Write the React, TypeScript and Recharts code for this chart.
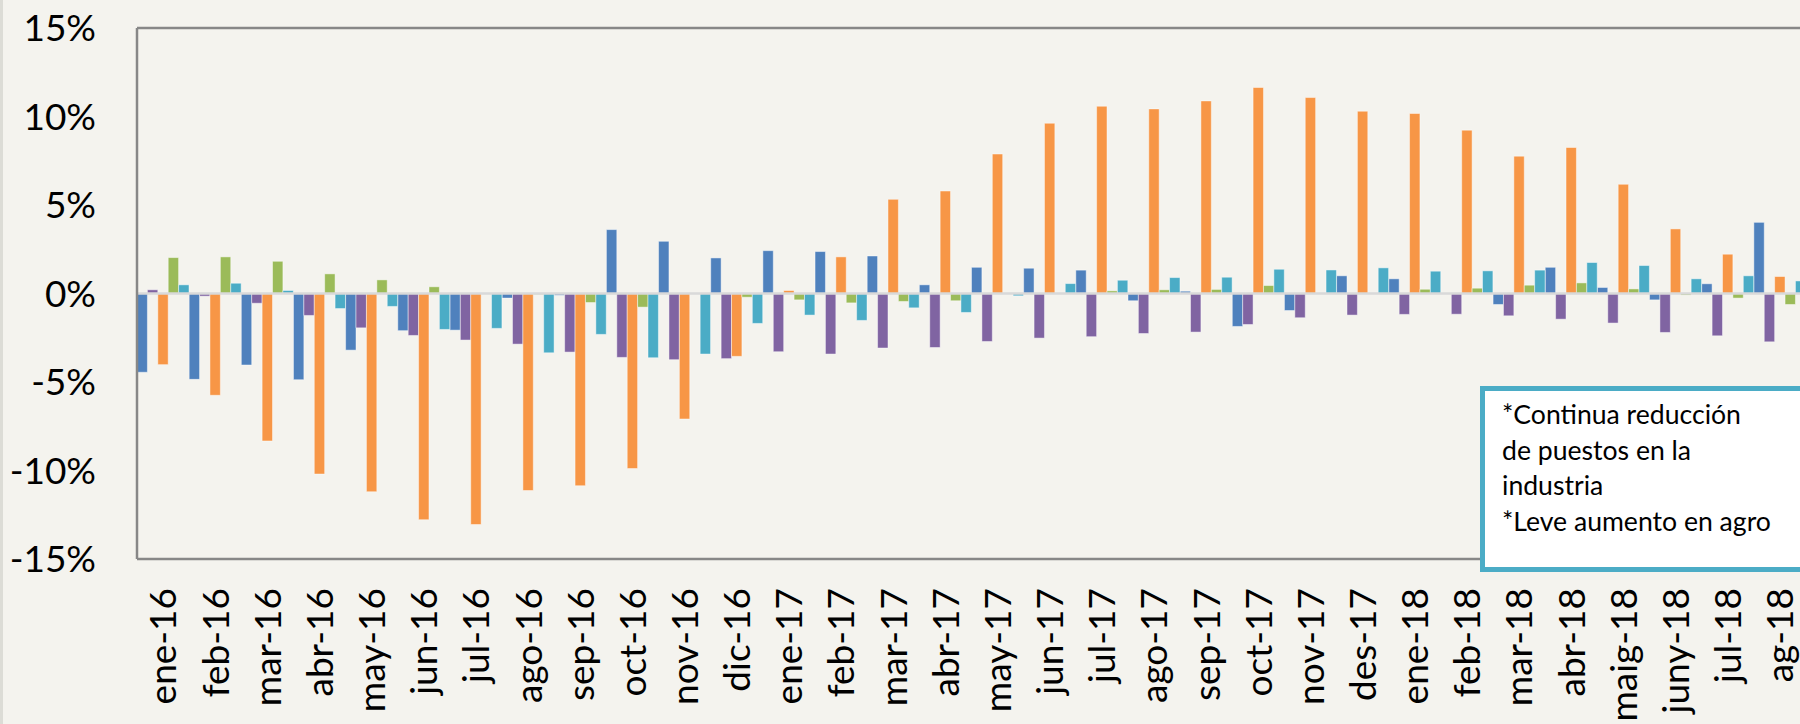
import React from "react"
import { Bar, BarChart, XAxis, YAxis, ReferenceLine } from "recharts"

// months as printed under the chart (mix of Spanish and Catalan abbreviations)
const months = [
  "ene-16", "feb-16", "mar-16", "abr-16", "may-16", "jun-16", "jul-16", "ago-16",
  "sep-16", "oct-16", "nov-16", "dic-16", "ene-17", "feb-17", "mar-17", "abr-17",
  "may-17", "jun-17", "jul-17", "ago-17", "sep-17", "oct-17", "nov-17", "des-17",
  "ene-18", "feb-18", "mar-18", "abr-18", "maig-18", "juny-18", "jul-18", "ag-18",
]

// year-on-year change, %
const blueSeries = [
  -4.45, -4.85, -4.04, -4.87, -3.2, -2.1, -2.07, -0.26,
  -0.1, 3.61, 2.95, 2.01, 2.42, 2.37, 2.12, 0.49,
  1.48, 1.43, 1.32, -0.41, 0.13, -1.86, -0.96, 1.0,
  0.83, 0.02, -0.62, 1.48, 0.34, -0.36, 0.55, 4.02,
]
const purpleSeries = [
  0.21, -0.15, -0.55, -1.24, -1.94, -2.37, -2.63, -2.86,
  -3.31, -3.61, -3.74, -3.68, -3.29, -3.42, -3.08, -3.05,
  -2.71, -2.52, -2.44, -2.26, -2.18, -1.75, -1.37, -1.22,
  -1.18, -1.17, -1.26, -1.45, -1.67, -2.2, -2.39, -2.73,
]
const orangeSeries = [
  -4.02, -5.75, -8.33, -10.2, -11.2, -12.78, -13.05, -11.13,
  -10.86, -9.89, -7.09, -3.55, 0.17, 2.07, 5.32, 5.79,
  7.88, 9.62, 10.58, 10.43, 10.88, 11.64, 11.07, 10.3,
  10.17, 9.23, 7.76, 8.25, 6.17, 3.65, 2.22, 0.96,
]
const greenSeries = [
  2.03, 2.07, 1.82, 1.11, 0.77, 0.38, 0, -0.05,
  -0.51, -0.77, 0, -0.21, -0.36, -0.53, -0.45, -0.41,
  0, 0, 0.15, 0.21, 0.23, 0.45, 0, 0,
  0.24, 0.3, 0.47, 0.6, 0.26, -0.09, -0.26, -0.62,
]
const tealSeries = [
  0.49, 0.58, 0.17, -0.85, -0.73, -2.03, -1.97, -3.35,
  -2.31, -3.63, -3.42, -1.69, -1.22, -1.52, -0.81, -1.07,
  -0.13, 0.56, 0.75, 0.9, 0.92, 1.37, 1.33, 1.45,
  1.26, 1.28, 1.32, 1.75, 1.58, 0.83, 1.0, 0.71,
]

const yTicks = [-15, -10, -5, 0, 5, 10, 15]

const noteLines = [
  "*Continua reducción",
  "de puestos en la",
  "industria",
  "*Leve aumento en agro",
]

const chartData = months.map((month, i) => ({
  month,
  blue: blueSeries[i],
  purple: purpleSeries[i],
  orange: orangeSeries[i],
  green: greenSeries[i],
  teal: tealSeries[i],
}))

const FONT = "Lato, 'Open Sans', sans-serif"
const BORDER = "#878787"

const MonthTick = ({ x, y, payload }: any) => (
  <text
    transform={`translate(${x},${y}) rotate(-90)`}
    textAnchor="end"
    dy="0.36em"
    fontSize={37}
    fontFamily={FONT}
    fill="#000"
  >
    {payload.value}
  </text>
)

export default function App() {
  const barProps = {
    isAnimationActive: false,
    barSize: 10.4,
    stroke: "#ffffff",
    strokeOpacity: 0.45,
    strokeWidth: 1,
  }

  return (
    <div
      style={{
        position: "fixed",
        left: 0,
        top: 0,
        width: 1800,
        height: 724,
        overflow: "hidden",
        background: "#F4F3EE",
      }}
    >
      <div style={{ position: "absolute", left: 0, top: 0, width: 3, height: 724, background: "#DCDCD6" }} />
      <BarChart
        width={1830}
        height={724}
        data={chartData}
        margin={{ top: 28, right: 24, bottom: 0, left: 0 }}
        barCategoryGap={0}
        barGap={0}
      >
        <XAxis
          dataKey="month"
          interval={0}
          height={165}
          tick={<MonthTick />}
          tickLine={false}
          tickSize={0}
          tickMargin={29}
          axisLine={{ stroke: BORDER, strokeWidth: 2.5 }}
        />
        <YAxis
          width={137}
          domain={[-15, 15]}
          ticks={yTicks}
          interval={0}
          tickFormatter={(v: number) => `${v}%`}
          tick={{ fontSize: 37, fontFamily: FONT, fill: "#000" }}
          tickLine={false}
          tickSize={0}
          tickMargin={41}
          axisLine={{ stroke: BORDER, strokeWidth: 2.5 }}
        />
        <Bar dataKey="blue" fill="#4F81BD" {...barProps} />
        <Bar dataKey="purple" fill="#8064A2" {...barProps} />
        <Bar dataKey="orange" fill="#F79646" {...barProps} />
        <Bar dataKey="green" fill="#9BBB59" {...barProps} />
        <Bar dataKey="teal" fill="#4BACC6" {...barProps} />
        <ReferenceLine y={0} stroke="#D9D9D9" strokeWidth={2.5} />
        <ReferenceLine y={15} stroke={BORDER} strokeWidth={2.5} />
      </BarChart>

      <div
        style={{
          position: "absolute",
          left: 1480,
          top: 386,
          width: 360,
          height: 186,
          boxSizing: "border-box",
          border: "5px solid #4BACC6",
          background: "#FFFFFF",
          paddingLeft: 17,
          paddingTop: 6,
          fontFamily: FONT,
          fontSize: 26.6,
          lineHeight: "35.5px",
          color: "#000",
          whiteSpace: "nowrap",
        }}
      >
        {noteLines.map((line) => (
          <div key={line}>{line}</div>
        ))}
      </div>
    </div>
  )
}
